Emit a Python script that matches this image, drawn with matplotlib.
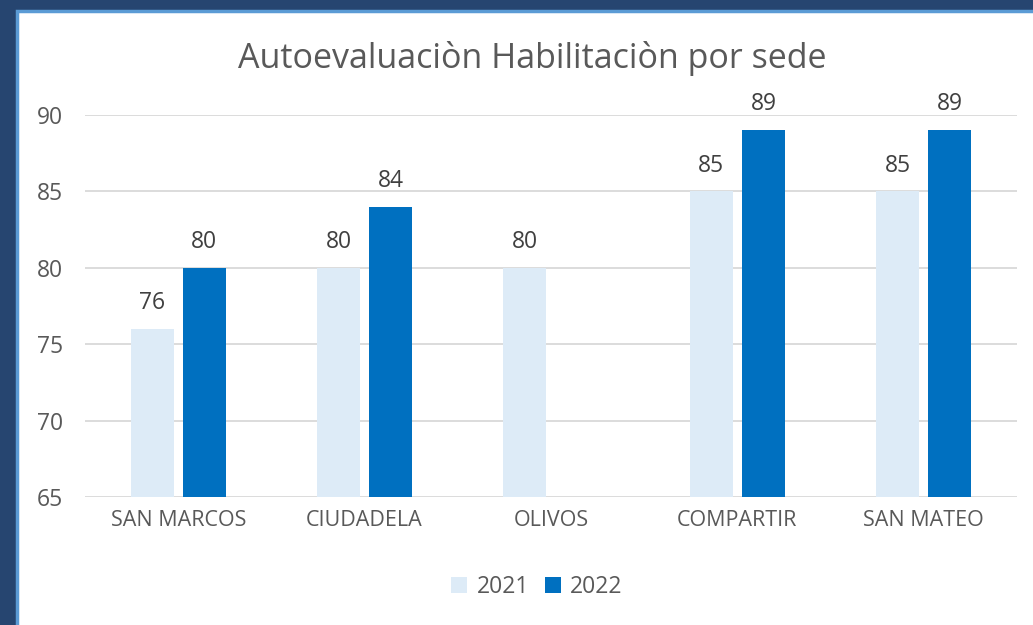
import numpy as np
import matplotlib.pyplot as plt
from matplotlib.patches import Rectangle

# data
sedes = ['SAN MARCOS', 'CIUDADELA', 'OLIVOS', 'COMPARTIR', 'SAN MATEO']
v2021 = [76, 80, 80, 85, 85]
v2022 = [80, 84, np.nan, 89, 89]
years = ['2021', '2022']

plt.rcParams['font.family'] = ['Open Sans', 'DejaVu Sans']

fig = plt.figure(figsize=(10.33, 6.25), dpi=100)
fig.patch.set_facecolor('#264570')

# white chart panel with light blue edge
panel = Rectangle((17 / 1033, -0.01), 1 - 17 / 1033 + 0.01, (625 - 11) / 625 + 0.01,
                  transform=fig.transFigure, facecolor='white',
                  edgecolor='#5B9BD5', linewidth=2.5, zorder=-1)
fig.patches.append(panel)

ax = fig.add_axes([85 / 1033, 128 / 625, 932 / 1033, 382 / 625])
ax.set_facecolor('none')

x = np.arange(len(sedes))
w = 0.23
off = 0.14
b1 = ax.bar(x - off, np.array(v2021) - 65, w, bottom=65, color='#DDEBF7', label=years[0], zorder=3)
b2 = ax.bar(x + off, np.array(v2022) - 65, w, bottom=65, color='#0070C0', label=years[1], zorder=3)

for xs, vals in [(x - off, v2021), (x + off, v2022)]:
    for xi, v in zip(xs, vals):
        if np.isnan(v):
            continue
        ax.annotate(f'{v:.0f}', (xi, v), xytext=(0, 10), textcoords='offset points',
                    ha='center', va='bottom', fontsize=16.5, color='#404040')

ax.set_xlim(-0.5, len(sedes) - 0.5)
ax.set_ylim(65, 90)
ax.set_yticks(np.arange(65, 91, 5))
ax.set_xticks(x)
ax.set_xticklabels(sedes)
ax.grid(axis='y', color='#D9D9D9', linewidth=1.3, zorder=0)
for s in ax.spines.values():
    s.set_visible(False)
ax.tick_params(length=0, colors='#595959', labelsize=16.5)
ax.tick_params(axis='x', labelsize=15.5, pad=9)
ax.tick_params(axis='y', pad=16)

fig.text(532 / 1033, 1 - 58 / 625, 'Autoevaluaciòn Habilitaciòn por sede', ha='center', va='center',
         fontsize=24.5, color='#595959')

ax.legend(loc='center', bbox_to_anchor=(537 / 1033, 1 - 587 / 625), bbox_transform=fig.transFigure,
          ncol=2, frameon=False, fontsize=16.5, handlelength=0.7, handleheight=0.7,
          handletextpad=0.4, columnspacing=0.7, labelcolor='#595959')

fig.savefig('out.png', dpi=100, facecolor=fig.get_facecolor())
